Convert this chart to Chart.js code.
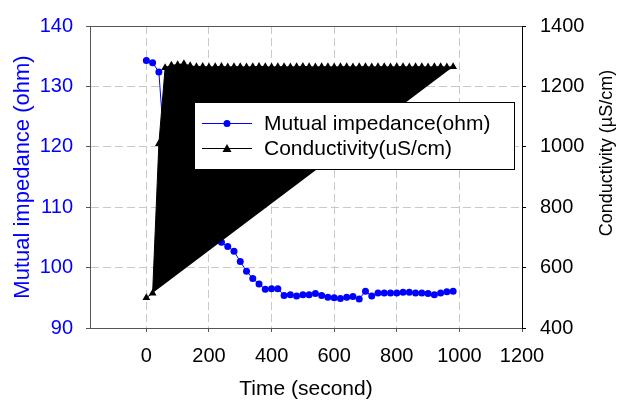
<!DOCTYPE html>
<html>
<head>
<meta charset="utf-8">
<script src="https://cdn.jsdelivr.net/npm/chart.js@4/dist/chart.umd.min.js"></script>
<style>
  html, body { margin: 0; padding: 0; background: #fff; }
  #wrap { width: 618px; height: 405px; }
</style>
</head>
<body>
<div id="wrap"><canvas id="chart" width="618" height="405"></canvas></div>
<script>
const timeSec = [0, 20, 40, 60, 80, 100, 120, 140, 160, 180,
  200, 220, 240, 260, 280, 300, 320, 340, 360, 380,
  400, 420, 440, 460, 480, 500, 520, 540, 560, 580,
  600, 620, 640, 660, 680, 700, 720, 740, 760, 780,
  800, 820, 840, 860, 880, 900, 920, 940, 960, 980];

const impedance = [134.3, 133.9, 132.4, 118, 113, 111, 109.5, 108.5, 107.5, 106.5,
  105.5, 104.8, 104.2, 103.5, 102.7, 101.0, 99.4, 98.2, 97.3, 96.4,
  96.5, 96.5, 95.4, 95.5, 95.3, 95.5, 95.5, 95.7, 95.4, 95.1,
  95.0, 94.9, 95.1, 95.2, 94.8, 96.1, 95.3, 95.8, 95.8, 95.8,
  95.8, 95.9, 95.9, 95.8, 95.8, 95.7, 95.5, 95.8, 96.0, 96.1];

const conductivity = [500, 515, 1010, 1262, 1270, 1272, 1275, 1268, 1265, 1266,
  1264, 1265, 1266, 1264, 1265, 1265, 1264, 1265, 1266, 1265,
  1264, 1265, 1265, 1264, 1265, 1266, 1265, 1264, 1265, 1265,
  1264, 1265, 1265, 1264, 1265, 1265, 1264, 1265, 1265, 1264,
  1265, 1265, 1264, 1265, 1265, 1264, 1265, 1265, 1264, 1265];

const seriesNames = ['Mutual impedance(ohm)', 'Conductivity(uS/cm)'];
const xTicks = [0, 200, 400, 600, 800, 1000, 1200];
const leftTicks = [90, 100, 110, 120, 130, 140];
const rightTicks = [400, 600, 800, 1000, 1200, 1400];

const FONT = "'Liberation Sans', Arial, sans-serif";
const BLUE = '#0000ff';
const GRID = '#c8c8c8';

function pairs(ys) {
  return timeSec.map((t, i) => ({ x: t, y: ys[i] }));
}

const plain = v => String(v);

// titles, top border and the boxed legend drawn by hand
const decorations = {
  id: 'decorations',
  afterDraw(chart) {
    const ctx = chart.ctx;
    const a = chart.chartArea;
    ctx.save();

    ctx.strokeStyle = '#555';
    ctx.lineWidth = 1;
    ctx.beginPath();
    ctx.moveTo(a.left, a.top + 0.5);
    ctx.lineTo(a.right, a.top + 0.5);
    ctx.stroke();

    ctx.textAlign = 'center';
    ctx.textBaseline = 'middle';
    ctx.fillStyle = '#000';
    ctx.font = '21px ' + FONT;
    ctx.fillText('Time (second)', (a.left + a.right) / 2, 389);

    ctx.save();
    ctx.translate(23, (a.top + a.bottom) / 2);
    ctx.rotate(-Math.PI / 2);
    ctx.fillStyle = BLUE;
    ctx.font = '22px ' + FONT;
    ctx.fillText('Mutual impedance (ohm)', 0, 0);
    ctx.restore();

    ctx.save();
    ctx.translate(607, 153);
    ctx.rotate(-Math.PI / 2);
    ctx.fillStyle = '#000';
    ctx.font = '18px ' + FONT;
    ctx.fillText('Conductivity (\u00b5S/cm)', 0, 0);
    ctx.restore();

    // legend
    const bx = 194, by = 102, bw = 320, bh = 67;
    ctx.fillStyle = '#fff';
    ctx.fillRect(bx, by, bw, bh);
    ctx.strokeStyle = '#000';
    ctx.strokeRect(bx + 0.5, by + 0.5, bw, bh);

    const rows = [by + 21, by + 46];
    ctx.font = '21px ' + FONT;
    ctx.textAlign = 'left';
    chart.data.datasets.forEach((ds, i) => {
      const y = rows[i];
      ctx.strokeStyle = ds.borderColor;
      ctx.lineWidth = 1;
      ctx.beginPath();
      ctx.moveTo(bx + 8, y + 0.5);
      ctx.lineTo(bx + 58, y + 0.5);
      ctx.stroke();
      ctx.fillStyle = ds.borderColor;
      ctx.beginPath();
      if (i === 0) {
        ctx.arc(bx + 33, y + 0.5, 3.5, 0, Math.PI * 2);
      } else {
        ctx.moveTo(bx + 33, y - 4);
        ctx.lineTo(bx + 37.5, y + 4);
        ctx.lineTo(bx + 28.5, y + 4);
        ctx.closePath();
      }
      ctx.fill();
      ctx.fillStyle = '#000';
      ctx.fillText(ds.label, bx + 70, y + 1);
    });

    ctx.restore();
  }
};

const ctx = document.getElementById('chart').getContext('2d');
const chart = new Chart(ctx, {
  type: 'line',
  data: {
    datasets: [
      {
        label: seriesNames[0],
        data: pairs(impedance),
        yAxisID: 'y',
        borderColor: BLUE,
        backgroundColor: BLUE,
        borderWidth: 1,
        pointRadius: 3.5,
        pointBorderWidth: 0,
        tension: 0,
        order: 1
      },
      {
        label: seriesNames[1],
        data: pairs(conductivity),
        yAxisID: 'y2',
        borderColor: '#000',
        backgroundColor: '#000',
        borderWidth: 1,
        pointStyle: 'triangle',
        pointRadius: 4.5,
        pointBorderWidth: 0,
        fill: 'shape',
        tension: 0,
        order: 0
      }
    ]
  },
  options: {
    responsive: false,
    animation: false,
    layout: { padding: { top: 19, left: 0, right: 0, bottom: 0 } },
    plugins: {
      legend: { display: false },
      tooltip: { enabled: false }
    },
    scales: {
      x: {
        type: 'linear',
        min: -180,
        max: 1200,
        afterBuildTicks: s => { s.ticks = xTicks.map(v => ({ value: v })); },
        afterFit: s => { s.height = 77; },
        grid: { color: GRID, tickColor: '#555', tickLength: 4, tickBorderDash: [] },
        border: { color: '#555', dash: [8, 4] },
        ticks: { color: '#000', font: { family: FONT, size: 20 }, padding: 12, maxRotation: 0, callback: plain }
      },
      y: {
        position: 'left',
        min: 90,
        max: 140,
        afterBuildTicks: s => { s.ticks = leftTicks.map(v => ({ value: v })); },
        afterFit: s => { s.width = 90; },
        grid: { color: GRID, tickColor: '#555', tickLength: 4, tickBorderDash: [] },
        border: { color: '#555', dash: [8, 4] },
        ticks: { color: BLUE, font: { family: FONT, size: 20 }, padding: 13, callback: plain }
      },
      y2: {
        position: 'right',
        min: 400,
        max: 1400,
        afterBuildTicks: s => { s.ticks = rightTicks.map(v => ({ value: v })); },
        afterFit: s => { s.width = 96; },
        grid: { drawOnChartArea: false, tickColor: '#000', tickLength: 4, tickBorderDash: [] },
        border: { color: '#000' },
        ticks: { color: '#000', font: { family: FONT, size: 20 }, padding: 14, callback: plain }
      }
    }
  },
  plugins: [decorations]
});
</script>
</body>
</html>
